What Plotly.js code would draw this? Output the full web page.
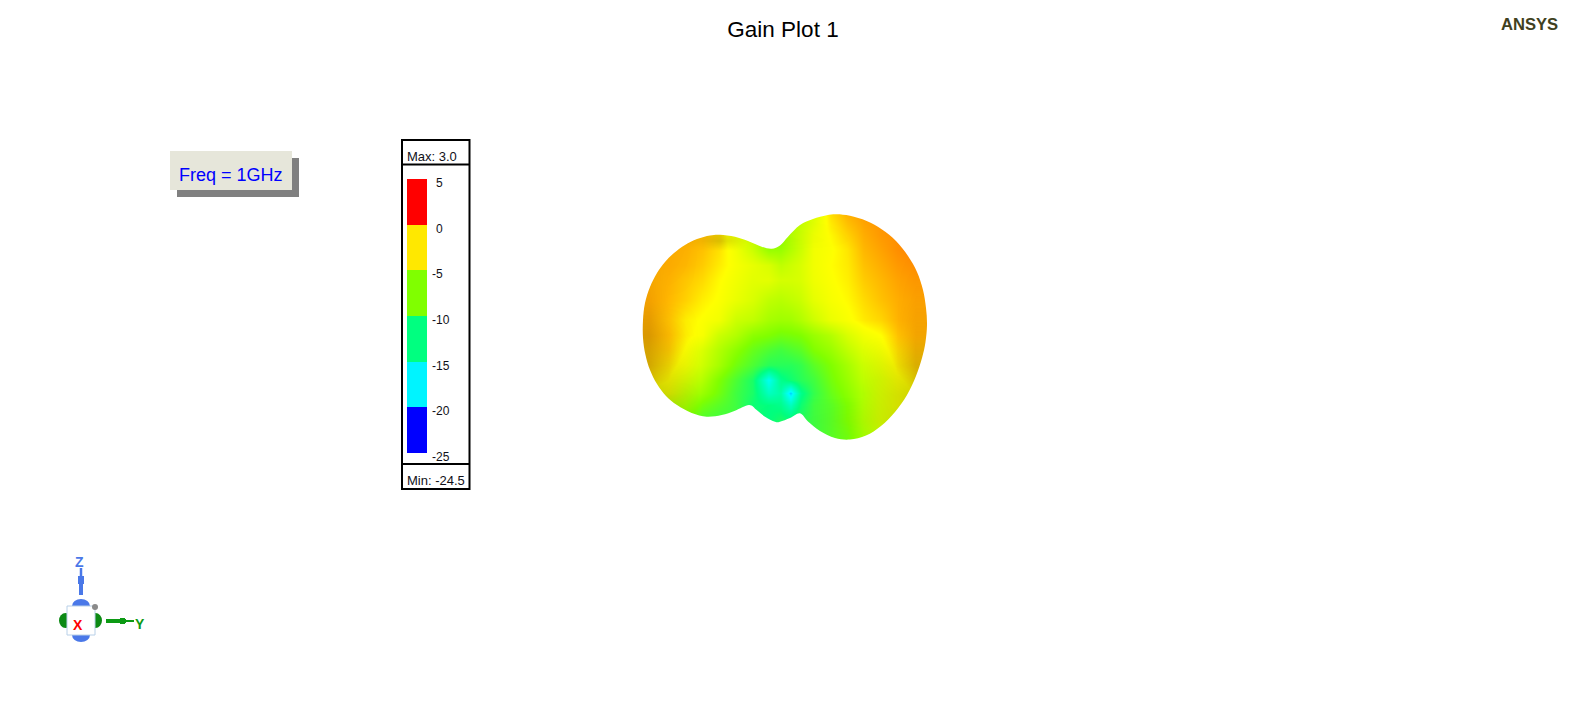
<!DOCTYPE html>
<html><head><meta charset="utf-8">
<script src="https://cdn.plot.ly/plotly-3.0.1.min.js"></script>
<style>html,body{margin:0;padding:0;background:#fff;overflow:hidden}#g{width:1571px;height:702px}</style>
</head><body><div id="g"></div>
<script>
// Gain, on a screen grid (px)
const gridX=[625,648,668,685,702,718,735,752,768,780,790,800,813,830,847,863,880,897,915,935];
const gridY=[215,235,250,265,280,300,320,335,350,365,380,393,405,420,435,450];
const gain=[
[-1,-1,-1,-1,-1.2,-1.8,-3,-4,-6,-6,-6,-5,-4,-1.9,-1,-.6,-.4,-.3,-.3,-.3],
[-.9,-.9,-.9,-1,-1.2,-1.8,-3.3,-4.5,-7,-7,-5.5,-4.5,-3.2,-2.4,-1.6,-.9,-.5,-.3,-.3,-.3],
[-.9,-.9,-.9,-1,-1.3,-1.9,-3,-4.5,-6.5,-6.5,-5.5,-4.5,-3,-2.6,-2,-1.1,-.7,-.3,-.1,-.1],
[-.9,-.9,-.9,-1.1,-1.5,-2.1,-2.8,-3.4,-4,-5,-4.5,-4,-3,-2.5,-2.1,-1.3,-.9,-.5,-.3,-.3],
[-.9,-.9,-1,-1.4,-1.8,-2.4,-3,-3.6,-3.6,-4.2,-4.2,-4,-3.1,-2.6,-2.2,-1.5,-1.1,-.7,-.5,-.5],
[-.8,-.8,-1.1,-1.6,-2.2,-2.6,-3.3,-4,-5,-5.3,-5,-4.6,-3.5,-2.8,-2.4,-1.8,-1.3,-.9,-.7,-.7],
[-.9,-.9,-1.3,-2.2,-2.6,-3,-4.5,-5,-6,-6.3,-6.2,-5.6,-4.5,-3.3,-2.7,-2.1,-1.7,-1,-.8,-.8],
[-1,-1,-1.2,-2.2,-2.8,-4.5,-5.5,-7,-7.5,-8,-7.8,-7.5,-6.5,-5.5,-4,-3,-2.5,-1.3,-.9,-.9],
[-1.3,-1.3,-1.5,-2.6,-4,-5.5,-7,-8.5,-9.5,-10,-9.5,-9,-7.5,-6.5,-5,-3.8,-3,-1.8,-1.2,-1.2],
[-1.5,-1.5,-2,-3,-4.5,-6,-8,-9.5,-11,-11,-11,-10.5,-9,-7.5,-6,-4.5,-3.5,-2.2,-1.5,-1.5],
[-2,-2,-2.5,-4,-5.5,-7.5,-9.5,-11.5,-17,-13,-12,-11,-10,-8,-6.5,-5,-4,-2.7,-2,-2],
[-3,-3,-3,-5,-6.5,-8,-10,-11.5,-15,-14,-18.5,-13,-10.5,-8.5,-7,-5.5,-4,-3,-2.5,-2.5],
[-4.5,-4.5,-5,-6,-8,-9,-10,-12,-12.5,-13,-15,-12,-10,-9,-7.5,-5.5,-4,-3,-3,-3],
[-7,-7,-7,-7.5,-9.5,-10,-10,-11.5,-12.5,-11.5,-12,-11,-10,-9,-7.5,-5.5,-4,-3.5,-3,-3],
[-8,-8,-8,-8,-9.5,-10,-10,-11,-12,-11,-11,-11,-10,-9,-8,-6,-4.5,-4,-4,-4],
[-8,-8,-8,-8,-9.5,-10,-10,-11,-12,-11,-11,-11,-10,-9,-8,-6,-4.5,-4,-4,-4]
];
// Rim darkening (0 = none)
const shadeX=[625,648,668,700,720,745,860,895,915,935];
const shadeY=[215,240,250,300,335,365,395,420,450];
const shade=[
[0,0,0,0,0,0,0,0,0,0],
[.03,.03,.02,.05,.15,.02,0,0,0,0],
[.03,.03,.02,0,0,0,0,0,0,0],
[.05,.05,0,0,0,0,0,0,.02,.02],
[.15,.15,.03,0,0,0,0,0,.05,.05],
[.18,.18,.1,0,0,0,0,.08,.15,.15],
[.18,.18,.15,0,0,0,0,.12,.18,.18],
[.1,.1,.1,0,0,0,.03,.12,.15,.15],
[0,0,0,0,0,0,0,0,0,0]
];
const outlineX=[720,735,748,761.7,771.7,780,788,800,813,826.7,836.7,850,866.7,882,896,908,917,923,926,927,925.5,922,916,907,895,881,866,850,835,820,808,800,790,780,775,765,756.7,749,735,721.7,706.7,691.7,677,666,657,650,645.5,643,643,645,650,657,665,674,685,697,710];
const outlineY=[234.7,236.7,241,246.7,248.7,245.5,236.7,225,219,215.3,214.3,215.8,221,229.5,241,256,272,290,308,325,342,358,376,395,412,426,435.5,439.5,438,431,421.5,413.3,418,421.7,421.7,416.7,410,405,410.7,415,416.7,413,405,396,384,370,355,338,320,303,287,273,262,253,245,239,235.5];
const gainColors=[[0,'#0000ff'],[.2,'#00ffff'],[.4,'#00ff80'],[.6,'#80ff00'],[.8,'#ffff00'],[1,'#ff0000']];
const legendBase=[-25,-20,-15,-10,-5,0];
const legendColors=['#0000ff','#00f4ff','#00ff80','#80ff00','#ffe800','#ff0000'];
const legendTicks=[5,0,-5,-10,-15,-20,-25];

function smoothPath(xs,ys){
  const n=xs.length;let d='M'+xs[0]+','+ys[0];
  for(let i=0;i<n;i++){
    const a=(i-1+n)%n,b=(i+1)%n,c=(i+2)%n;
    d+='C'+(xs[i]+(xs[b]-xs[a])/6).toFixed(1)+','+(ys[i]+(ys[b]-ys[a])/6).toFixed(1)+' '+
       (xs[b]-(xs[c]-xs[i])/6).toFixed(1)+','+(ys[b]-(ys[c]-ys[i])/6).toFixed(1)+' '+xs[b]+','+ys[b];
  }
  return d+'Z';
}
const W=1571,H=702;
const font='"Liberation Sans",Arial,sans-serif';
const traces=[
 {type:'heatmap',x:gridX,y:gridY,z:gain,zmin:-22.5,zmax:2.5,colorscale:gainColors,zsmooth:'best',showscale:false,hoverinfo:'skip',xaxis:'x',yaxis:'y'},
 {type:'heatmap',x:shadeX,y:shadeY,z:shade,zmin:0,zmax:1,colorscale:[[0,'rgba(0,0,0,0)'],[1,'rgba(0,0,0,1)']],zsmooth:'best',showscale:false,hoverinfo:'skip',xaxis:'x',yaxis:'y'},
 {type:'bar',x:legendBase.map(()=>0.5),y:legendBase.map(()=>5),base:legendBase,width:1,marker:{color:legendColors,line:{width:0}},xaxis:'x2',yaxis:'y2',hoverinfo:'skip',showlegend:false}
];
const rect=(x0,y0,x1,y1,fill,line)=>({type:'rect',xref:'x',yref:'y',x0,y0,x1,y1,fillcolor:fill,line:line||{width:0},layer:'below'});
const ell=(x0,y0,x1,y1,fill)=>({type:'circle',xref:'x',yref:'y',x0,y0,x1,y1,fillcolor:fill,line:{width:0},layer:'below'});
const seg=(x0,y0,x1,y1,color,w)=>({type:'line',xref:'x',yref:'y',x0,y0,x1,y1,line:{color,width:w},layer:'above'});
const shapes=[
 {type:'path',xref:'x',yref:'y',path:'M600,190H960V470H600Z'+smoothPath(outlineX,outlineY),fillcolor:'#ffffff',fillrule:'evenodd',line:{width:0},layer:'above'},
 rect(177,158,299,197,'#808080'),
 rect(170,151,292,190,'#e6e6da'),
 {type:'rect',xref:'x',yref:'y',x0:402,y0:140,x1:469.5,y1:489,fillcolor:'rgba(0,0,0,0)',line:{color:'#000',width:2},layer:'above'},
 seg(402,164.5,469.5,164.5,'#000',2),
 seg(402,464,469.5,464,'#000',2),
 ell(72,599,90,613,'#4a78e8'),
 ell(72,628,90,642,'#4a78e8'),
 ell(59,613,72,628,'#0c8a14'),
 ell(89,613,102,628,'#0c8a14'),
 rect(67,606,95,635,'#ffffff',{color:'#b8d0e8',width:1}),
 ell(92,604,98,610,'#8a8a8a'),
 seg(81,595,81,576,'#4a78e8',4),
 seg(81,581,81,568,'#4a78e8',2.5),
 seg(81,584,81,576,'#4a78e8',6),
 seg(106,621,126,621,'#0c9a14',4),
 seg(118,621,134,621,'#0c9a14',2),
 seg(120,621,125,621,'#0c9a14',6)
];
const ann=(x,y,text,size,color,extra)=>Object.assign({xref:'x',yref:'y',x,y,text,showarrow:false,font:{family:font,size,color},xanchor:'left',yanchor:'middle'},extra||{});
const annotations=[
 ann(1499,24.5,'<b>ANSYS</b>',16.6,'#404020'),
 ann(177,175,'Freq = 1GHz',18,'#0000ff'),
 ann(405,156,'Max: 3.0',13,'#101018'),
 ann(405,480,'Min: -24.5',13,'#101018'),
 ann(77.5,624.5,'<b>X</b>',14,'#ff0000',{xanchor:'center'}),
 ann(79,562,'<b>Z</b>',14,'#4a78e8',{xanchor:'center'}),
 ann(139.5,623.5,'<b>Y</b>',14,'#0c9a14',{xanchor:'center'})
].concat(legendTicks.map((t,i)=>({xref:'x',yref:'y2',x:t<0?430:434,y:t,yshift:-4,text:String(t),showarrow:false,xanchor:'left',yanchor:'middle',font:{family:font,size:12,color:'#101018'}})));
const hidden={visible:false,fixedrange:true};
const layout={
 width:W,height:H,margin:{l:0,r:0,t:0,b:0,pad:0},paper_bgcolor:'#fff',plot_bgcolor:'rgba(0,0,0,0)',
 showlegend:false,barmode:'overlay',bargap:0,
 title:{text:'Gain Plot 1',x:783/W,xanchor:'center',y:1-29/H,yanchor:'middle',font:{family:font,size:22.5,color:'#000'}},
 xaxis:Object.assign({range:[0,W],domain:[0,1],anchor:'y'},hidden),
 yaxis:Object.assign({range:[H,0],domain:[0,1],anchor:'x'},hidden),
 xaxis2:Object.assign({range:[0,1],domain:[407/W,427/W],anchor:'y2'},hidden),
 yaxis2:Object.assign({range:[-25,5],domain:[(H-453)/H,(H-179)/H],anchor:'x2'},hidden),
 shapes,annotations
};
Plotly.newPlot('g',traces,layout,{displayModeBar:false,staticPlot:true});
</script></body></html>
